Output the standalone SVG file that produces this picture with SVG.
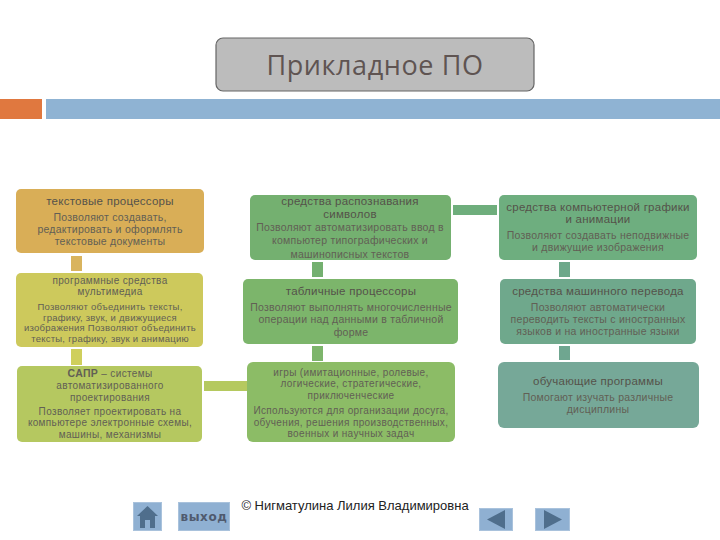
<svg xmlns="http://www.w3.org/2000/svg" width="720" height="540" viewBox="0 0 720 540">
<style>
text{font-family:"Liberation Sans",Arial,sans-serif;text-anchor:middle;font-size:10px;letter-spacing:.35px;fill:#625f55}
.h{fill:#55524a;font-size:11.5px;letter-spacing:.25px}
.b{font-size:10.5px;letter-spacing:.25px}
.s{font-size:9.5px;letter-spacing:.25px}
.btn{fill:#8fb0d2;stroke:#a9c2dc;stroke-width:1}
.ic{fill:#4f6e8c}
</style>
<rect width="720" height="540" fill="#fff"/>
<g id="header">
<rect x="216" y="38" width="318" height="53" rx="7" fill="#bcbcbc" stroke="#666" stroke-width="1.2"/>
<text x="375" y="75" style="font-family:'Open Sans','Noto Sans',sans-serif;font-size:27px;letter-spacing:.6px;fill:#5f5452">Прикладное ПО</text>
<rect x="0" y="99" width="42" height="20" fill="#e0783f"/>
<rect x="46" y="99" width="674" height="20" fill="#8fb3d3"/>
</g>
<g id="connectors">
<rect x="71" y="256" width="11" height="15" fill="#d9b45e"/>
<rect x="71" y="349" width="11" height="16" fill="#cfcf5c"/>
<rect x="204" y="381" width="43" height="10" fill="#b5c95f"/>
<rect x="312" y="262" width="11" height="15" fill="#74b070"/>
<rect x="312" y="346" width="11" height="15" fill="#7db56b"/>
<rect x="453" y="205" width="44" height="10" fill="#6fae7c"/>
<rect x="559" y="262" width="11" height="15" fill="#6da88a"/>
<rect x="559" y="346" width="11" height="14" fill="#6fa690"/>
</g>
<g id="n1">
<rect x="16" y="189" width="188" height="64" rx="5" fill="#d9ae57"/>
<text class="h" x="110" y="205">текстовые процессоры</text>
<text class="b" x="110" y="221">Позволяют создавать,</text>
<text class="b" x="110" y="233">редактировать и оформлять</text>
<text class="b" x="110" y="245">текстовые документы</text>
</g>
<g id="n2">
<rect x="16" y="273" width="187" height="74" rx="5" fill="#cdc95c"/>
<text x="110" y="284">программные средства</text>
<text x="110" y="295">мультимедиа</text>
<text class="s" x="110" y="310">Позволяют объединить тексты,</text>
<text class="s" x="110" y="321">графику, звук, и движущиеся</text>
<text class="s" x="110" y="331">изображения Позволяют объединить</text>
<text class="s" x="110" y="342">тексты, графику, звук и анимацию</text>
</g>
<g id="n3">
<rect x="17" y="366" width="185" height="76" rx="5" fill="#b5c860"/>
<text x="110" y="377"><tspan font-weight="bold" font-size="10.5">САПР</tspan> – системы</text>
<text x="110" y="389">автоматизированного</text>
<text x="110" y="401">проектирования</text>
<text x="110" y="415">Позволяет проектировать на</text>
<text x="110" y="426">компьютере электронные схемы,</text>
<text x="110" y="438">машины, механизмы</text>
</g>
<g id="n4">
<rect x="250" y="195" width="201" height="65" rx="5" fill="#74b070"/>
<text class="h" x="350" y="205">средства распознавания</text>
<text class="h" x="350" y="218">символов</text>
<text class="b" x="350" y="231">Позволяют автоматизировать ввод в</text>
<text class="b" x="350" y="244">компьютер типографических и</text>
<text class="b" x="350" y="258">машинописных текстов</text>
</g>
<g id="n5">
<rect x="243" y="279" width="215" height="65" rx="5" fill="#7cb56b"/>
<text class="h" x="351" y="295">табличные процессоры</text>
<text class="b" x="351" y="311">Позволяют выполнять многочисленные</text>
<text class="b" x="351" y="323">операции над данными в табличной</text>
<text class="b" x="351" y="336">форме</text>
</g>
<g id="n6">
<rect x="247" y="362" width="208" height="80" rx="6" fill="#8cbc66"/>
<text x="351" y="376">игры (имитационные, ролевые,</text>
<text x="351" y="387">логические, стратегические,</text>
<text x="351" y="399">приключенческие</text>
<text x="351" y="414">Используются для организации досуга,</text>
<text x="351" y="426">обучения, решения производственных,</text>
<text x="351" y="437">военных и научных задач</text>
</g>
<g id="n7">
<rect x="499" y="195" width="198" height="65" rx="5" fill="#6eae7f"/>
<text class="h" x="598" y="211">средства компьютерной графики</text>
<text class="h" x="598" y="223">и анимации</text>
<text class="b" x="598" y="239">Позволяют создавать неподвижные</text>
<text class="b" x="598" y="251">и движущие изображения</text>
</g>
<g id="n8">
<rect x="500" y="279" width="196" height="65" rx="5" fill="#6fa88c"/>
<text class="h" x="598" y="295">средства машинного перевода</text>
<text class="b" x="598" y="311">Позволяют автоматически</text>
<text class="b" x="598" y="323">переводить тексты с иностранных</text>
<text class="b" x="598" y="335">языков и на иностранные языки</text>
</g>
<g id="n9">
<rect x="498" y="362" width="201" height="66" rx="6" fill="#76a898"/>
<text class="h" x="598" y="385">обучающие программы</text>
<text class="b" x="598" y="401">Помогают изучать различные</text>
<text class="b" x="598" y="413">дисциплины</text>
</g>
<g id="copyright">
<text x="355" y="510" style="font-size:13px;letter-spacing:0;fill:#222">© Нигматулина Лилия Владимировна</text>
</g>
<g id="btn-home">
<rect class="btn" x="133.500" y="502.500" width="28" height="28"/>
<path class="ic" d="M147.500 506L158 516H137Z"/>
<rect class="ic" x="140" y="516" width="15" height="12"/>
<rect x="145" y="520" width="5" height="8" fill="#8fb0d2"/>
</g>
<g id="btn-exit">
<rect class="btn" x="178.500" y="502.500" width="51" height="28"/>
<text x="204" y="521" style="font-family:'DejaVu Sans',sans-serif;font-size:12px;font-weight:bold;letter-spacing:.6px;fill:#4f5a6e">выход</text>
</g>
<g id="btn-prev">
<rect class="btn" x="479.500" y="508.500" width="33" height="22"/>
<path class="ic" d="M487 519.500L505 510V529Z"/>
</g>
<g id="btn-next">
<rect class="btn" x="535.500" y="508.500" width="34" height="22"/>
<path class="ic" d="M562 519.500L544 510V529Z"/>
</g>
</svg>
